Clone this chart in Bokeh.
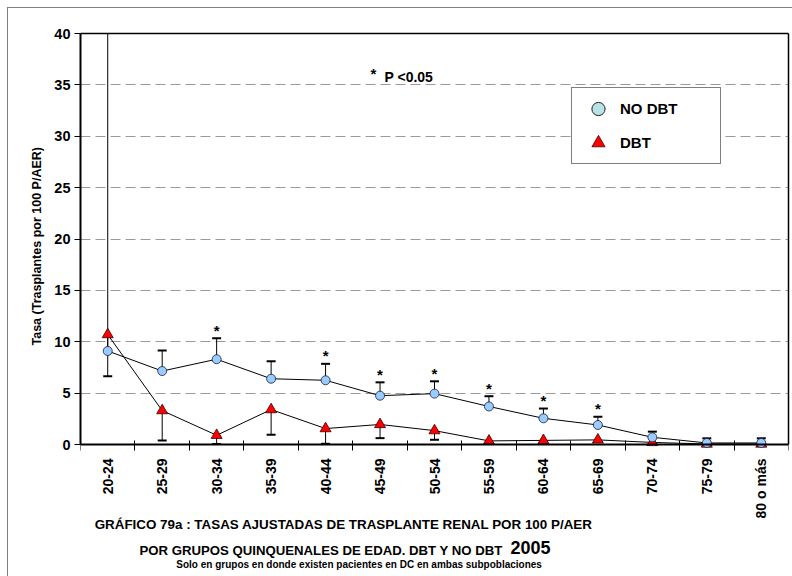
import math
from bokeh.plotting import figure
from bokeh.models import (Range1d, LinearAxis, FixedTicker, ColumnDataSource, Label,
                          Legend, LegendItem, Title)
from bokeh.core.properties import value
from bokeh.embed import file_html
from bokeh.resources import INLINE

# ---------------- data ----------------
categories = ["20-24", "25-29", "30-34", "35-39", "40-44", "45-49", "50-54",
              "55-59", "60-64", "65-69", "70-74", "75-79", "80 o más"]
no_dbt = [9.1, 7.15, 8.3, 6.4, 6.25, 4.75, 4.95, 3.7, 2.55, 1.9, 0.7, 0.15, 0.15]
no_dbt_upper = [42.0, 9.15, 10.35, 8.1, 7.85, 6.05, 6.15, 4.7, 3.5, 2.7, 1.25, 0.6, 0.6]
dbt = [10.7, 3.3, 0.9, 3.4, 1.55, 1.95, 1.35, 0.35, 0.4, 0.45, 0.2, 0.05, 0.05]
dbt_lower = [6.65, 0.4, 0.05, 0.95, 0.07, 0.62, 0.46, 0.15, 0.2, 0.25, 0.05, 0.0, 0.0]
significant = [False, False, True, False, True, True, True, True, True, True, False, False, False]
y_ticks = [0, 5, 10, 15, 20, 25, 30, 35, 40]

title_line1 = "GRÁFICO 79a :  TASAS AJUSTADAS DE TRASPLANTE RENAL POR 100 P/AER"
title_line2 = "POR GRUPOS QUINQUENALES DE EDAD.  DBT Y NO DBT"
title_year = "2005"
title_line3 = "Solo en grupos en donde existen pacientes  en DC en ambas subpoblaciones"
y_title = "Tasa (Trasplantes por 100 P/AER)"
note_star = "*"
note_text = "P <0.05"

# category positions on a numeric axis (centre of each category slot)
N = len(categories)
xpos = [i + 0.5 for i in range(N)]
Y_MAX = 40

# ---------------- layout (pixels of the page) ----------------
W, H = 792, 576
FRAME_L, FRAME_R, FRAME_T = 80, 788, 33
AXIS_Y = 444                       # pixel row of the y = 0 line
PX_PER_UNIT = (AXIS_Y - FRAME_T) / Y_MAX
def fx(px):
    return (px - FRAME_L) / (FRAME_R - FRAME_L) * N
def fy(py):
    return (AXIS_Y - py) / PX_PER_UNIT

BOLD = "bold"
ARIAL = "Liberation Sans"
INK = "black"

p = figure(x_range=Range1d(0, N), y_range=Range1d(fy(H), Y_MAX),
           width=W, height=H, output_backend="svg", toolbar_location=None,
           x_axis_location=None, min_border_left=FRAME_L, min_border_right=W - FRAME_R,
           min_border_top=FRAME_T, min_border_bottom=0,
           background_fill_color="white", border_fill_color=None)
p.styles = {"background": "linear-gradient(#808080, #808080) 7px 7px / 1px 100% no-repeat, "
                          "linear-gradient(#808080, #808080) 7px 7px / 100% 1px no-repeat, white"}
p.outline_line_color = None

# grid
p.xgrid.visible = False
p.ygrid.ticker = FixedTicker(ticks=y_ticks[1:-1])
p.ygrid.grid_line_color = "#9a9a9a"
p.ygrid.grid_line_dash = "10 5"
p.ygrid.grid_line_width = 1

# y axis
ya = p.yaxis[0]
ya.bounds = (0, Y_MAX)
ya.ticker = FixedTicker(ticks=y_ticks)
ya.major_tick_in = 0
ya.major_tick_out = 6
ya.major_tick_line_color = INK
ya.axis_line_color = INK
ya.minor_tick_line_color = None
ya.axis_line_width = 2
ya.major_label_text_font = ARIAL
ya.major_label_text_font_style = BOLD
ya.major_label_text_font_size = "14.5px"
ya.major_label_text_color = INK
ya.major_label_standoff = 4

# y axis title, placed along the 0..40 part of the axis
p.add_layout(Title(text=y_title, align="left", offset=H - 345, standoff=15,
                   text_font=ARIAL, text_font_style=BOLD, text_font_size="12.5px",
                   text_color=INK), "left")

# plain frame lines at top and right
top_axis = LinearAxis(ticker=FixedTicker(ticks=[]), axis_line_width=1.5, axis_line_color=INK,
                      major_tick_line_color=None, minor_tick_line_color=None,
                      major_label_text_font_size="0px")
p.add_layout(top_axis, "above")
right_axis = LinearAxis(ticker=FixedTicker(ticks=[]), axis_line_width=1.5, axis_line_color=INK,
                        bounds=(0, Y_MAX), major_tick_line_color=None,
                        minor_tick_line_color=None, major_label_text_font_size="0px")
p.add_layout(right_axis, "right")

# x axis at y = 0: tick marks at category boundaries + category labels at centres
tick_axis = LinearAxis(fixed_location=0, ticker=FixedTicker(ticks=list(range(N + 1))),
                       major_tick_in=4, major_tick_out=6, minor_tick_line_color=None,
                       axis_line_width=2, axis_line_color=INK, major_tick_line_color=INK,
                       major_label_text_font_size="0px", major_label_text_color=None)
p.add_layout(tick_axis, "below")
cat_axis = LinearAxis(fixed_location=0, ticker=FixedTicker(ticks=xpos),
                      major_label_overrides={x: c for x, c in zip(xpos, categories)},
                      axis_line_color=None, major_tick_line_color=None, major_tick_out=0,
                      major_tick_in=0, minor_tick_line_color=None,
                      major_label_orientation=math.pi / 2, major_label_text_color=INK,
                      major_label_text_font=ARIAL, major_label_text_font_style=BOLD,
                      major_label_text_font_size="14px", major_label_standoff=14)
p.add_layout(cat_axis, "below")

src = ColumnDataSource(dict(x=xpos, no_dbt=no_dbt, no_up=no_dbt_upper,
                            dbt=dbt, dbt_lo=dbt_lower))

# error bars
p.segment(x0="x", y0="no_dbt", x1="x", y1="no_up", source=src, line_color=INK, line_width=1)
p.scatter(x="x", y="no_up", source=src, marker="dash", size=9, line_color=INK, line_width=2)
p.segment(x0="x", y0="dbt", x1="x", y1="dbt_lo", source=src, line_color=INK, line_width=1)
p.scatter(x="x", y="dbt_lo", source=src, marker="dash", size=9, line_color=INK, line_width=2)

# lines and markers
p.line(x="x", y="dbt", source=src, line_color=INK, line_width=1)
p.line(x="x", y="no_dbt", source=src, line_color=INK, line_width=1)
p.scatter(x="x", y="dbt", source=src, marker="triangle", size=11,
          fill_color="#ff0000", line_color="#3a0000", line_width=0.8)
p.scatter(x="x", y="no_dbt", source=src, marker="circle", size=9,
          fill_color="#99ccff", line_color="#1a1a40", line_width=0.8)

# significance stars, floated a fixed pixel gap above the upper error cap
STAR_GAP = 8 / PX_PER_UNIT
sig_x = [x for x, s in zip(xpos, significant) if s]
sig_y = [u + STAR_GAP for u, s in zip(no_dbt_upper, significant) if s]
p.text(x=sig_x, y=sig_y, text=[note_star] * len(sig_x), text_font=value(ARIAL),
       text_font_style=BOLD, text_font_size="15px", text_align="center",
       text_baseline="middle", text_color=INK)

# note "* P <0.05"
p.add_layout(Label(x=fx(370), y=fy(72.5), text=note_star, text_font=ARIAL, text_font_style=BOLD,
                   text_font_size="15px", text_baseline="middle", text_align="left",
                   text_color=INK))
p.add_layout(Label(x=fx(384), y=fy(76.5), text=note_text, text_font=ARIAL, text_font_style=BOLD,
                   text_font_size="14px", text_baseline="middle", text_align="left",
                   text_color=INK))

# legend (own glyph styling via off-screen renderers)
leg_c = p.scatter(x=[-100], y=[-100], marker="circle", size=13, fill_color="#b8e2e6",
                  line_color="#222222", line_width=1)
leg_t = p.scatter(x=[-100], y=[-100], marker="triangle", size=15, fill_color="#ff0000",
                  line_color="#400000", line_width=0.8)
legend = Legend(items=[LegendItem(label="NO DBT", renderers=[leg_c]),
                       LegendItem(label="DBT", renderers=[leg_t])],
                location=(571 - FRAME_L, H - 164), margin=0, padding=4, spacing=1,
                glyph_width=44, glyph_height=33, label_height=33, label_width=96,
                label_standoff=0, border_line_color=INK, border_line_width=1.2,
                label_text_font=ARIAL, label_text_font_style=BOLD, label_text_font_size="15px",
                label_text_color=INK,
                background_fill_color="white", background_fill_alpha=1.0)
p.add_layout(legend)

# titles below the chart
p.add_layout(Label(x=fx(345), y=fy(524), text=title_line1, text_font=ARIAL,
                   text_font_style=BOLD, text_font_size="13.4px", text_align="center",
                   text_baseline="middle", text_color=INK))
p.add_layout(Label(x=fx(506), y=fy(550), text=title_line2, text_font=ARIAL,
                   text_font_style=BOLD, text_font_size="13.2px", text_align="right",
                   text_baseline="middle", text_color=INK))
p.add_layout(Label(x=fx(510), y=fy(546.5), text=title_year, text_font=ARIAL,
                   text_font_style=BOLD, text_font_size="18px", text_align="left",
                   text_baseline="middle", text_color=INK))
p.add_layout(Label(x=fx(360), y=fy(564), text=title_line3, text_font=ARIAL,
                   text_font_style=BOLD, text_font_size="10px", text_align="center",
                   text_baseline="middle", text_color=INK))

open("out.html", "w").write(file_html(p, INLINE))
